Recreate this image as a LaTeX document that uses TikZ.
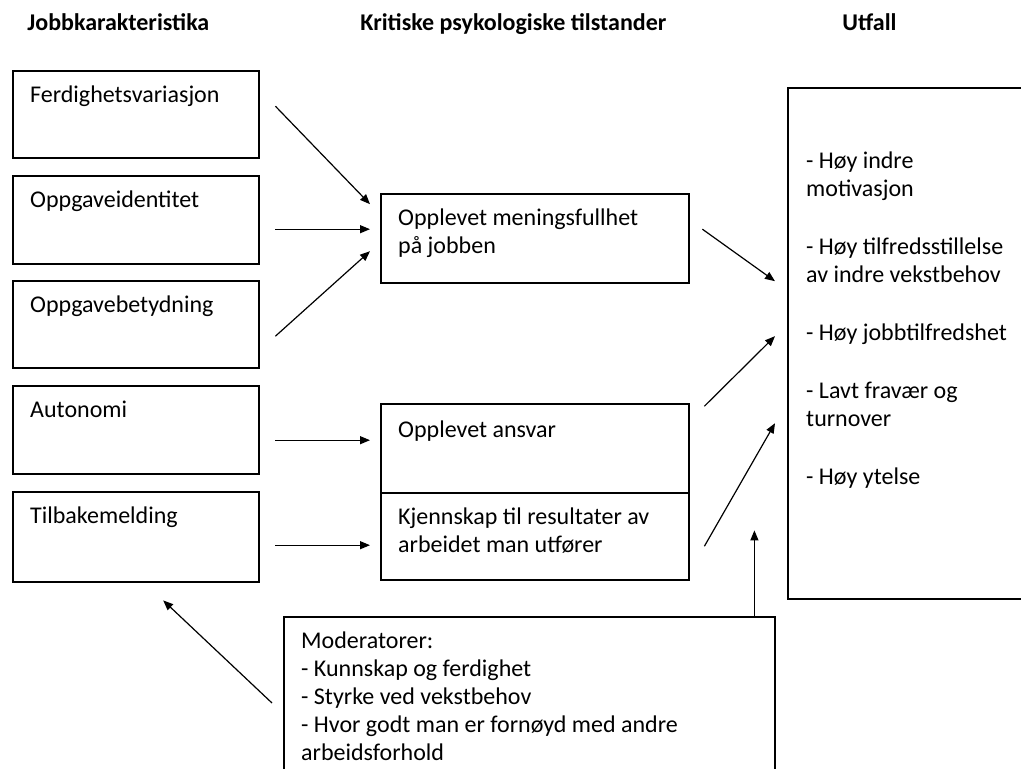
\documentclass[tikz,border=0pt]{standalone}
\usepackage{fontspec}
\setmainfont{Carlito}
\usepackage{tikz}
\usetikzlibrary{calc,arrows.meta}

\newcommand{\cbox}[3]{\parbox[t][#2][t]{#1}{\raggedright\strut #3}}

\begin{document}
\begin{tikzpicture}[x=0.5pt,y=-0.5pt,
  every node/.style={font=\fontsize{12}{14}\selectfont},
  hdr/.style={font=\fontsize{12}{14}\selectfont\bfseries, anchor=base west, inner sep=0pt},
  box/.style={draw, line width=1.2pt, anchor=north west, inner xsep=8.5pt, inner ysep=6pt},
  arr/.style={line width=0.6pt, -{Triangle[length=5pt,width=4pt]}}]

\useasboundingbox (0,0) rectangle (1021,769);

\node[hdr] (h1) at (27,31) {Jobbkarakteristika};
\node[hdr] (h2) at (360,31) {Kritiske psykologiske tilstander};
\node[hdr] (h3) at (842,31) {Utfall};

\node[box] (ferd) at (12,70) {\cbox{106pt}{31.5pt}{Ferdighetsvariasjon}};
\node[box] (oppid) at (12,175) {\cbox{106pt}{32pt}{Oppgaveidentitet}};
\node[box] (oppbet) at (12,280) {\cbox{106pt}{31.5pt}{Oppgavebetydning}};
\node[box] (auto) at (12,385) {\cbox{106pt}{32pt}{Autonomi}};
\node[box] (tilb) at (12,491) {\cbox{106pt}{33pt}{Tilbakemelding}};

\node[box] (mean) at (380,193) {\cbox{137pt}{32.5pt}{Opplevet meningsfullhet\\p\r{a} jobben}};
\node[box, inner ysep=7pt] (ansv) at (380,403) {\cbox{137pt}{30.5pt}{Opplevet ansvar}};
\node[box] (kjenn) at (380,492) {\cbox{137pt}{31.5pt}{Kjennskap til resultater av\\arbeidet man utf\o{}rer}};

\node[box, inner xsep=9pt, inner ysep=30.5pt] (utfall) at (787,87) {\cbox{103.5pt}{194.5pt}{- H\o{}y indre\\motivasjon\\[15pt]- H\o{}y tilfredsstillelse\\av indre vekstbehov\\[15pt]- H\o{}y jobbtilfredshet\\[15pt]- Lavt frav\ae{}r og\\turnover\\[15pt]- H\o{}y ytelse}};

\node[box] (mod) at (283,616) {\cbox{228.5pt}{80pt}{Moderatorer:\\- Kunnskap og ferdighet\\- Styrke ved vekstbehov\\- Hvor godt man er forn\o{}yd med andre\\arbeidsforhold}};

\draw[arr] ($(ferd.east)+(15,-8.5)$) -- ($(mean.west)+(-10,-34.5)$);
\draw[arr] ($(oppid.east)+(15,9)$) -- ($(mean.west)+(-10,-9.5)$);
\draw[arr] ($(oppbet.east)+(15,11.5)$) -- ($(mean.west)+(-10,12.5)$);
\draw[arr] ($(auto.east)+(15,10)$) -- ($(ansv.west)+(-10,-8.5)$);
\draw[arr] ($(tilb.east)+(15,8)$) -- ($(kjenn.west)+(-10,8.5)$);

\draw[arr] ($(mean.east)+(12,-9.5)$) -- ($(utfall.west)+(-12,-62.5)$);
\draw[arr] ($(ansv.east)+(14,-42.5)$) -- ($(utfall.west)+(-12,-7.5)$);
\draw[arr] ($(kjenn.east)+(14,9.5)$) -- ($(utfall.west)+(-12,79.5)$);

\draw[arr] ($(mod.north east)+(-22,0)$) -- ($(kjenn.south east)+(64,-51)$);
\draw[arr] ($(mod.north west)+(-11,87)$) -- ($(tilb.south)+(27,17)$);

\end{tikzpicture}
\end{document}
